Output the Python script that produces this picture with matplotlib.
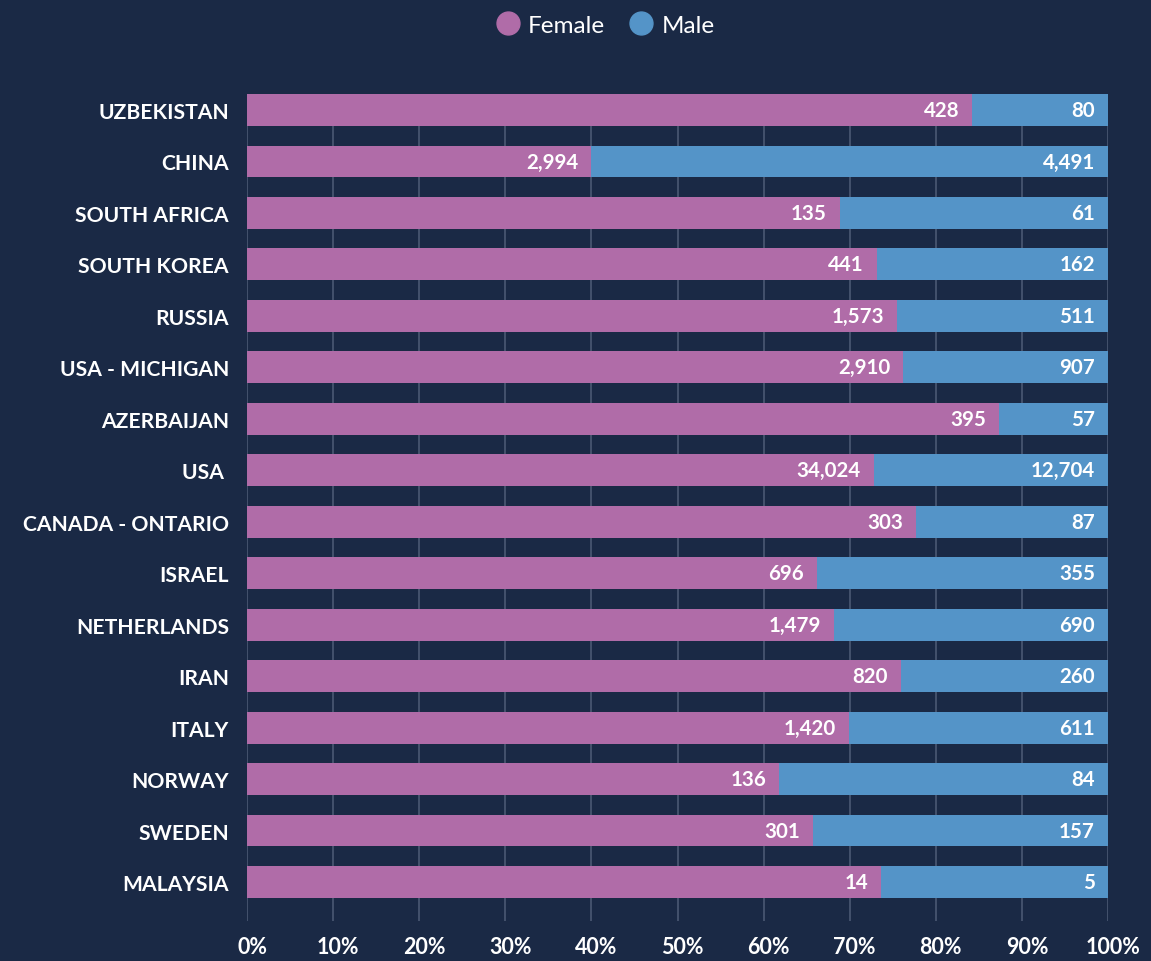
import matplotlib
matplotlib.use("Agg")
import matplotlib.pyplot as plt
import matplotlib.transforms as mtransforms
from matplotlib.lines import Line2D
from matplotlib.ticker import FuncFormatter

countries = ["UZBEKISTAN", "CHINA", "SOUTH AFRICA", "SOUTH KOREA", "RUSSIA",
             "USA - MICHIGAN", "AZERBAIJAN", "USA ", "CANADA - ONTARIO", "ISRAEL",
             "NETHERLANDS", "IRAN", "ITALY", "NORWAY", "SWEDEN", "MALAYSIA"]
female = [428, 2994, 135, 441, 1573, 2910, 395, 34024, 303, 696, 1479, 820, 1420, 136, 301, 14]
male = [80, 4491, 61, 162, 511, 907, 57, 12704, 87, 355, 690, 260, 611, 84, 157, 5]
x_ticks = [0, 10, 20, 30, 40, 50, 60, 70, 80, 90, 100]

BG = "#1a2945"
C_F = "#b06ca8"
C_M = "#5494c8"
GRID = "#4b5873"
FONT = ["Lato", "DejaVu Sans"]

plt.rcParams["font.family"] = FONT

fig = plt.figure(figsize=(11.51, 9.62), dpi=100, facecolor=BG)
ax = fig.add_axes([247/1151, 1-922/962, (1108-247)/1151, (922-95)/962])
ax.set_facecolor(BG)

totals = [f + m for f, m in zip(female, male)]
fp = [100 * f / t for f, t in zip(female, totals)]
mp = [100 * m / t for m, t in zip(male, totals)]
ys = list(range(len(countries)))
h = 0.62

ax.barh(ys, fp, height=h, color=C_F, zorder=2, linewidth=0)
ax.barh(ys, mp, left=fp, height=h, color=C_M, zorder=2, linewidth=0)

for y, f, m, a, b in zip(ys, female, male, fp, mp):
    ax.annotate(f"{f:,}", xy=(a, y), xytext=(-13, 0), textcoords="offset pixels",
                ha="right", va="center", color="white", fontsize=14.8,
                fontweight="bold", zorder=3)
    ax.annotate(f"{m:,}", xy=(a + b, y), xytext=(-13, 0), textcoords="offset pixels",
                ha="right", va="center", color="white", fontsize=14.8,
                fontweight="bold", zorder=3)

ax.set_xlim(0, 100)
ax.set_ylim(len(countries) - 1 + 0.758, -0.311)
ax.set_xticks(x_ticks)
ax.xaxis.set_major_formatter(FuncFormatter(lambda v, p: f"{int(v)}%"))
ax.set_yticks(ys)
ax.set_yticklabels(countries)
ax.tick_params(axis="y", length=0, pad=13, labelsize=15.2, labelcolor="white")
ax.tick_params(axis="x", length=0, pad=11, labelsize=15.5, labelcolor="white")
shift = mtransforms.ScaledTranslation(5/100, 0, fig.dpi_scale_trans)
for lab in ax.get_xticklabels():
    lab.set_fontweight("bold")
    lab.set_transform(lab.get_transform() + shift)
for lab in ax.get_yticklabels():
    lab.set_fontweight("bold")
ax.grid(axis="x", color=GRID, linewidth=1.2, zorder=0)
ax.grid(axis="y", visible=False)
for s in ax.spines.values():
    s.set_visible(False)

handles = [Line2D([], [], marker="o", linestyle="", markersize=16.5, color=C_F, label="Female"),
           Line2D([], [], marker="o", linestyle="", markersize=16.5, color=C_M, label="Male")]
leg = fig.legend(handles=handles, loc="center", bbox_to_anchor=(605/1151, 1 - 26/962), ncol=2,
                 frameon=False, fontsize=17.5, handletextpad=0.33, columnspacing=1.0,
                 handlelength=1.0, borderaxespad=0, borderpad=0)
for t in leg.get_texts():
    t.set_color("white")

fig.savefig("out.png", dpi=100, facecolor=BG)
